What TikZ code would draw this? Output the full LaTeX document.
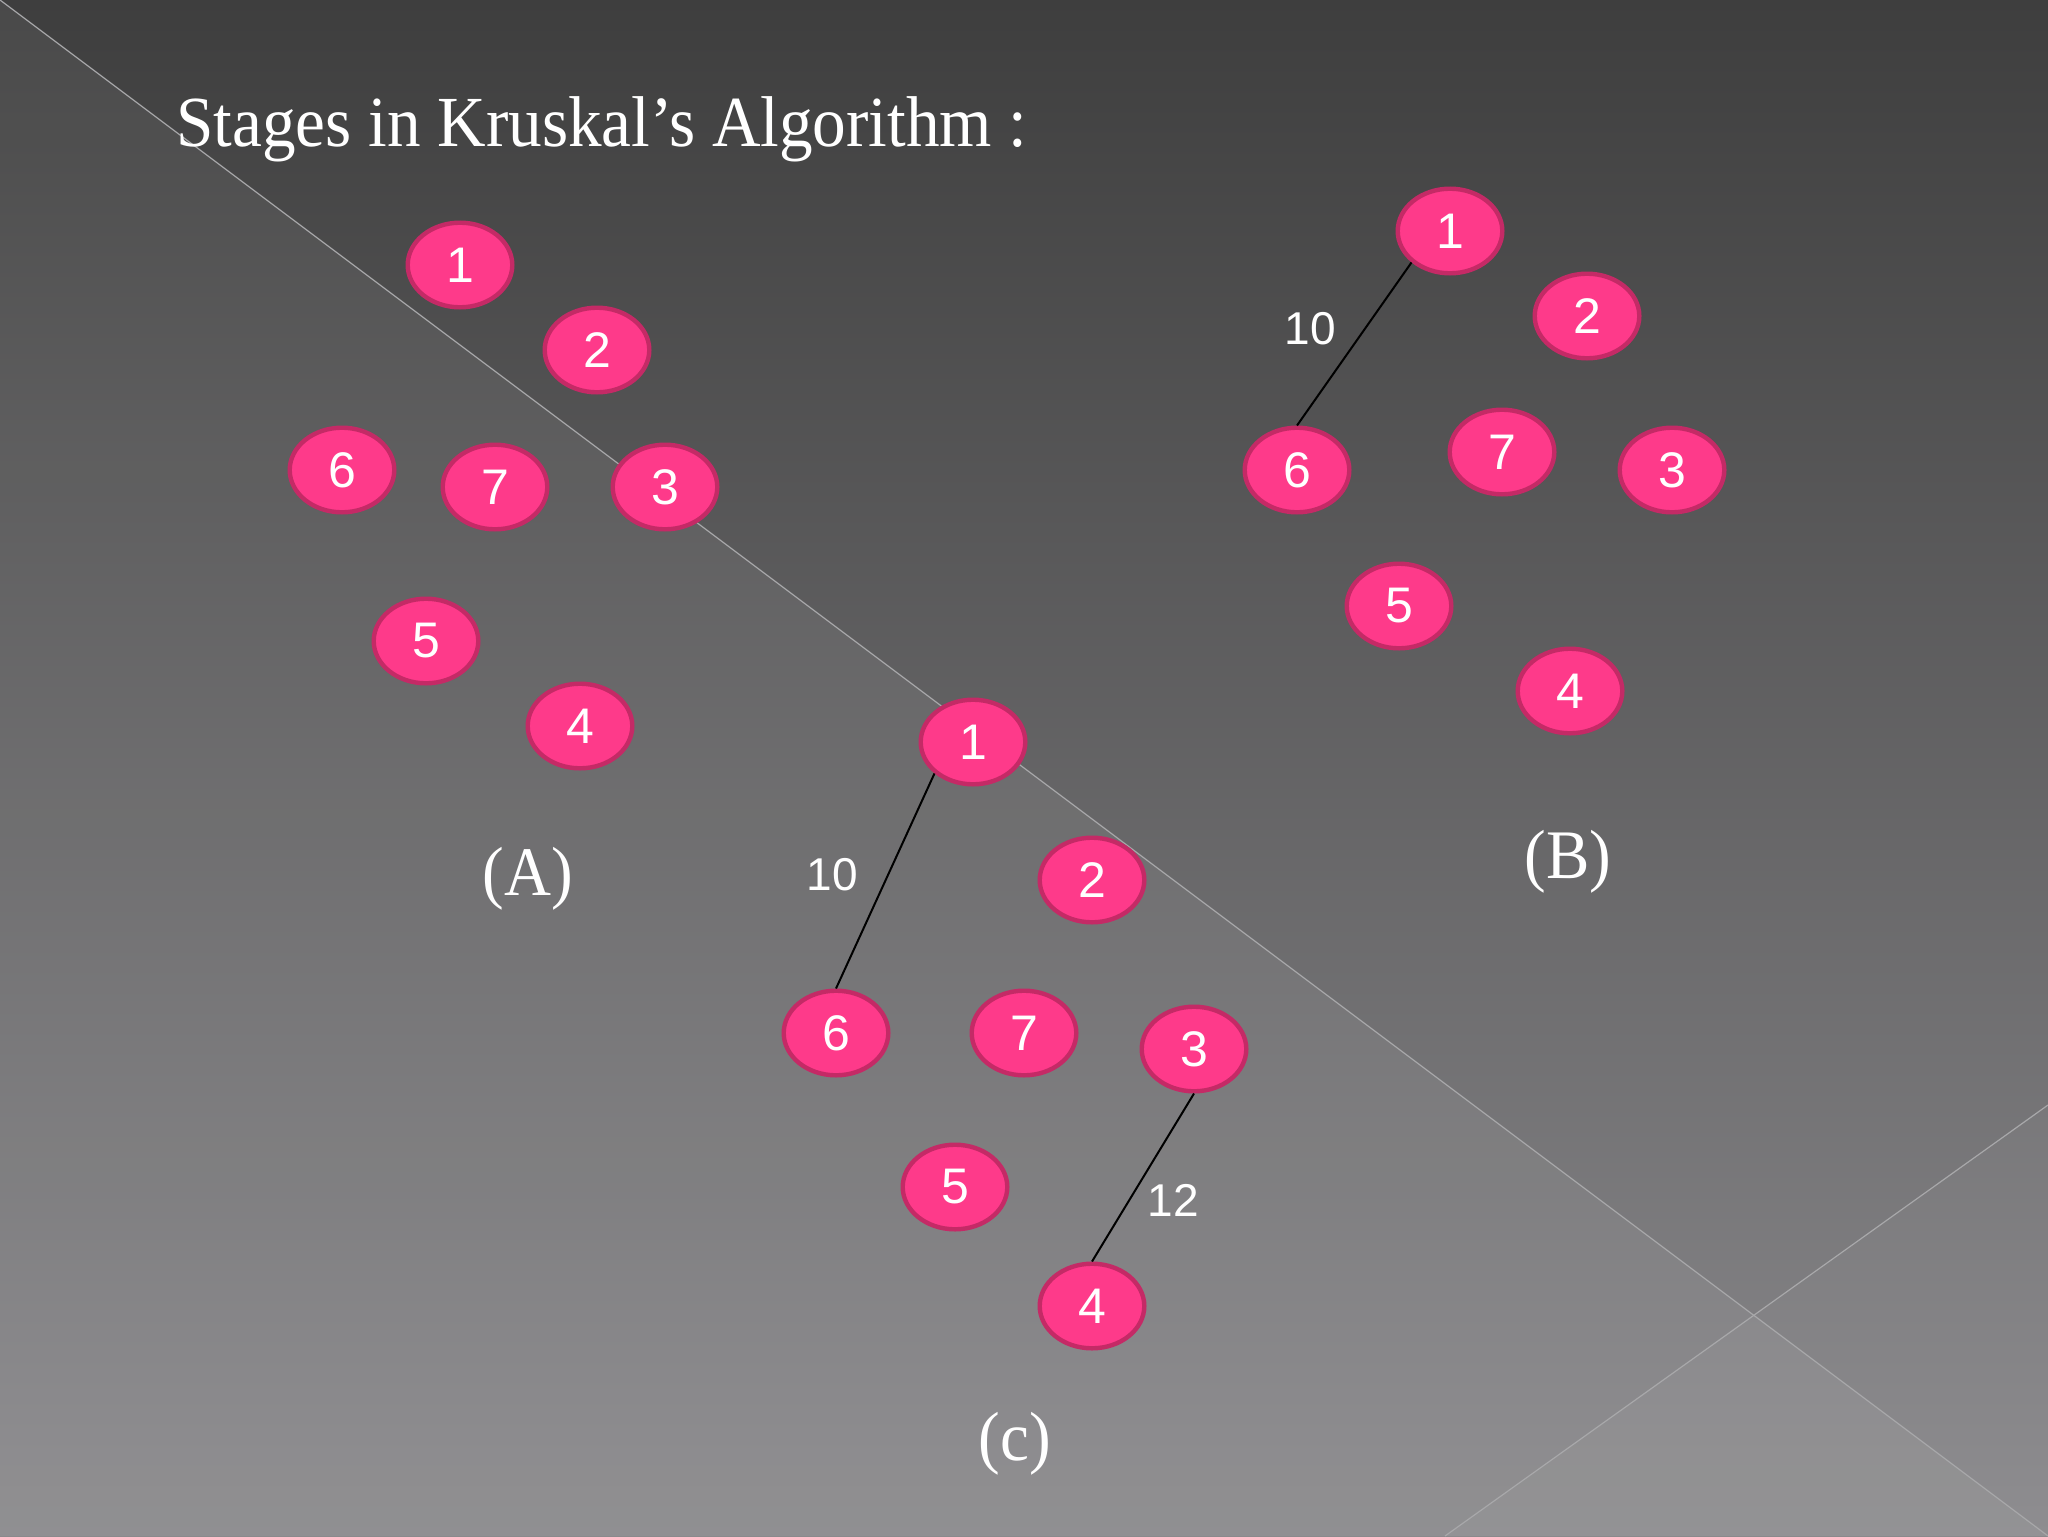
\documentclass[tikz,border=0pt]{standalone}
\usepackage{fontspec}
\setmainfont{Liberation Serif}
\newfontfamily\arialf{Liberation Sans}
\usetikzlibrary{shapes.geometric}
\definecolor{nodefill}{HTML}{FE3A8A}
\definecolor{nodeline}{HTML}{C42A66}
\definecolor{bgtop}{HTML}{3E3E3E}
\definecolor{bgbot}{HTML}{8A898C}
\definecolor{diagcol}{HTML}{A8A8AA}
\newcommand{\tallify}[1]{\scalebox{1}[1.07]{#1}}
\begin{document}
\begin{tikzpicture}[x=0.5pt,y=-0.5pt,
  vtx/.style={ellipse,draw=nodeline,fill=nodefill,line width=2.2pt,
    minimum width=52.3pt,minimum height=42.3pt,inner sep=0pt,text=white,
    font=\arialf\fontsize{25}{25}\selectfont},
  wt/.style={text=white,inner sep=0pt,font=\arialf\fontsize{23}{23}\selectfont},
  caplabel/.style={text=white,anchor=base,inner sep=0pt,font=\fontsize{32.5}{32.5}\selectfont},
  link/.style={draw=black,line width=1pt},
  diag/.style={draw=diagcol,line width=0.6pt}]
\useasboundingbox (0,0) rectangle (2048,1536);
% background
\shade[top color=bgtop,bottom color=bgbot] (0,0) rectangle (2048,1536);
\fill[white,opacity=0.06] (0,0) -- (2048,1536) -- (0,1536) -- cycle;
\fill[white,opacity=0.035] (2048,1105) -- (2048,1536) -- (1445,1536) -- cycle;
\draw[diag] (0,0) -- (2048,1536);
\draw[diag] (2048,1105) -- (1445,1536);
% title
\node[text=white,anchor=base west,inner sep=0pt,font=\fontsize{33.6}{33.6}\selectfont] (title) at (176,146) {\tallify{Stages in Kruskal’s Algorithm :}};
% stage A
\node[vtx] (a1) at (460,265) {1};
\node[vtx] (a2) at (597,350) {2};
\node[vtx] (a6) at (342,470) {6};
\node[vtx] (a7) at (495,487) {7};
\node[vtx] (a3) at (665,487) {3};
\node[vtx] (a5) at (426,641) {5};
\node[vtx] (a4) at (580,726) {4};
\node[caplabel] (capA) at (528,895) {\tallify{(A)}};
% stage B
\node[vtx] (b1) at (1450,231) {1};
\node[vtx] (b2) at (1587,316) {2};
\node[vtx] (b6) at (1297,470) {6};
\node[vtx] (b7) at (1502,452) {7};
\node[vtx] (b3) at (1672,470) {3};
\node[vtx] (b5) at (1399,606) {5};
\node[vtx] (b4) at (1570,691) {4};
\draw[link] (b1.south west) -- (b6.north);
\node[wt] (wb10) at (1310,329) {10};
\node[caplabel] (capB) at (1568,878) {\tallify{(B)}};
% stage C
\node[vtx] (c1) at (973,742) {1};
\node[vtx] (c2) at (1092,880) {2};
\node[vtx] (c6) at (836,1033) {6};
\node[vtx] (c7) at (1024,1033) {7};
\node[vtx] (c3) at (1194,1049) {3};
\node[vtx] (c5) at (955,1187) {5};
\node[vtx] (c4) at (1092,1306) {4};
\draw[link] (c1.south west) -- (c6.north);
\draw[link] (c3.south) -- (c4.north);
\node[wt] (wc10) at (832,875) {10};
\node[wt] (wc12) at (1173,1200) {12};
\node[caplabel] (capC) at (1015,1460) {\tallify{(c)}};
\end{tikzpicture}
\end{document}
